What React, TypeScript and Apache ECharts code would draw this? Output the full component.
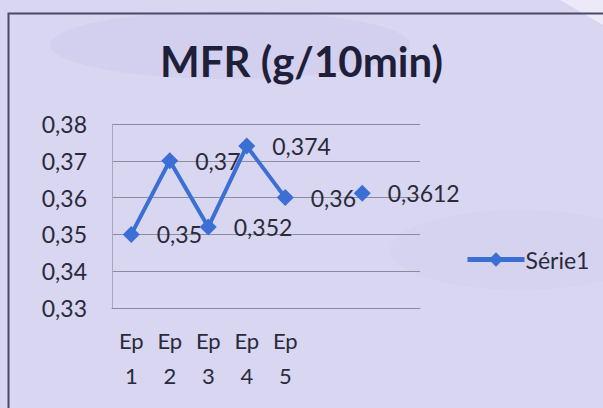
import React, { useEffect, useRef } from "react";
import * as echarts from "echarts";

const categories = ["Ep\n1", "Ep\n2", "Ep\n3", "Ep\n4", "Ep\n5", "", "", ""];
const serie1 = [0.35, 0.37, 0.352, 0.374, 0.36, null, 0.3612, null];
const seriesName = "Série1";
const titleText = "MFR (g/10min)";
const yMin = 0.33;
const yMax = 0.38;
const yStep = 0.01;

const fmt = (v: number) => String(+v.toFixed(4)).replace(".", ",");

export default function App() {
  const ref = useRef<HTMLDivElement>(null);
  useEffect(() => {
    document.body.style.margin = "0";
    const chart = echarts.init(ref.current!, null, { renderer: "svg" });
    const font = "Lato, 'Open Sans', sans-serif";
    chart.setOption({
      animation: false,
      backgroundColor: "#d8d6f0",
      graphic: [
        { type: "ellipse", z: -10, shape: { cx: 230, cy: 45, rx: 180, ry: 34 }, style: { fill: "#d2d0ee" } },
        { type: "ellipse", z: -10, shape: { cx: 520, cy: 250, rx: 130, ry: 40 }, style: { fill: "#d5d3ef" } },
        { type: "polygon", z: -10, shape: { points: [[560, 0], [603, 0], [603, 25]] }, style: { fill: "#eceaf8" } },
        { type: "rect", z: 10, shape: { x: 8.5, y: 13.5, width: 610, height: 410 }, style: { fill: "none", stroke: "#4a4a68", lineWidth: 2 } },
      ],
      title: {
        text: titleText,
        left: "center",
        top: 35,
        textStyle: { fontFamily: font, fontWeight: "bold", fontSize: 42, color: "#1f1f3a" },
      },
      legend: {
        data: [seriesName],
        left: 460,
        top: 243,
        itemWidth: 57,
        itemHeight: 18,
        itemGap: 4,
        lineStyle: { width: 5 },
        textStyle: { fontFamily: font, fontSize: 23, color: "#2a2a3a", padding: [0, 0, 0, -4] },
      },
      grid: { left: 112, top: 124, right: 183, bottom: 100, containLabel: false },
      xAxis: {
        type: "category",
        data: categories,
        boundaryGap: true,
        axisLine: { show: true, lineStyle: { color: "#8c8ca0", width: 1 } },
        axisTick: { show: false },
        axisLabel: { interval: 0, margin: 15, fontFamily: font, fontSize: 22, lineHeight: 35, color: "#2a2a3a" },
      },
      yAxis: {
        type: "value",
        min: yMin,
        max: yMax,
        interval: yStep,
        axisLine: { show: true, lineStyle: { color: "#a8a8bc", width: 1 } },
        axisTick: { show: false },
        splitLine: { show: true, lineStyle: { color: "#8c8ca0", width: 1 } },
        axisLabel: { margin: 25, fontFamily: font, fontSize: 23, color: "#2a2a3a", formatter: (v: number) => fmt(v) },
      },
      series: [
        {
          name: seriesName,
          type: "line",
          data: serie1,
          connectNulls: false,
          symbol: "diamond",
          symbolSize: 17,
          itemStyle: { color: "#3c6fd3" },
          lineStyle: { color: "#3c6fd3", width: 4 },
          label: {
            show: true,
            position: "right",
            distance: 17,
            fontFamily: font,
            fontSize: 23,
            color: "#2a2a3a",
            formatter: (p: any) => fmt(p.value),
          },
        },
      ],
    });
    return () => chart.dispose();
  }, []);
  return <div ref={ref} style={{ width: 603, height: 408 }} />;
}
